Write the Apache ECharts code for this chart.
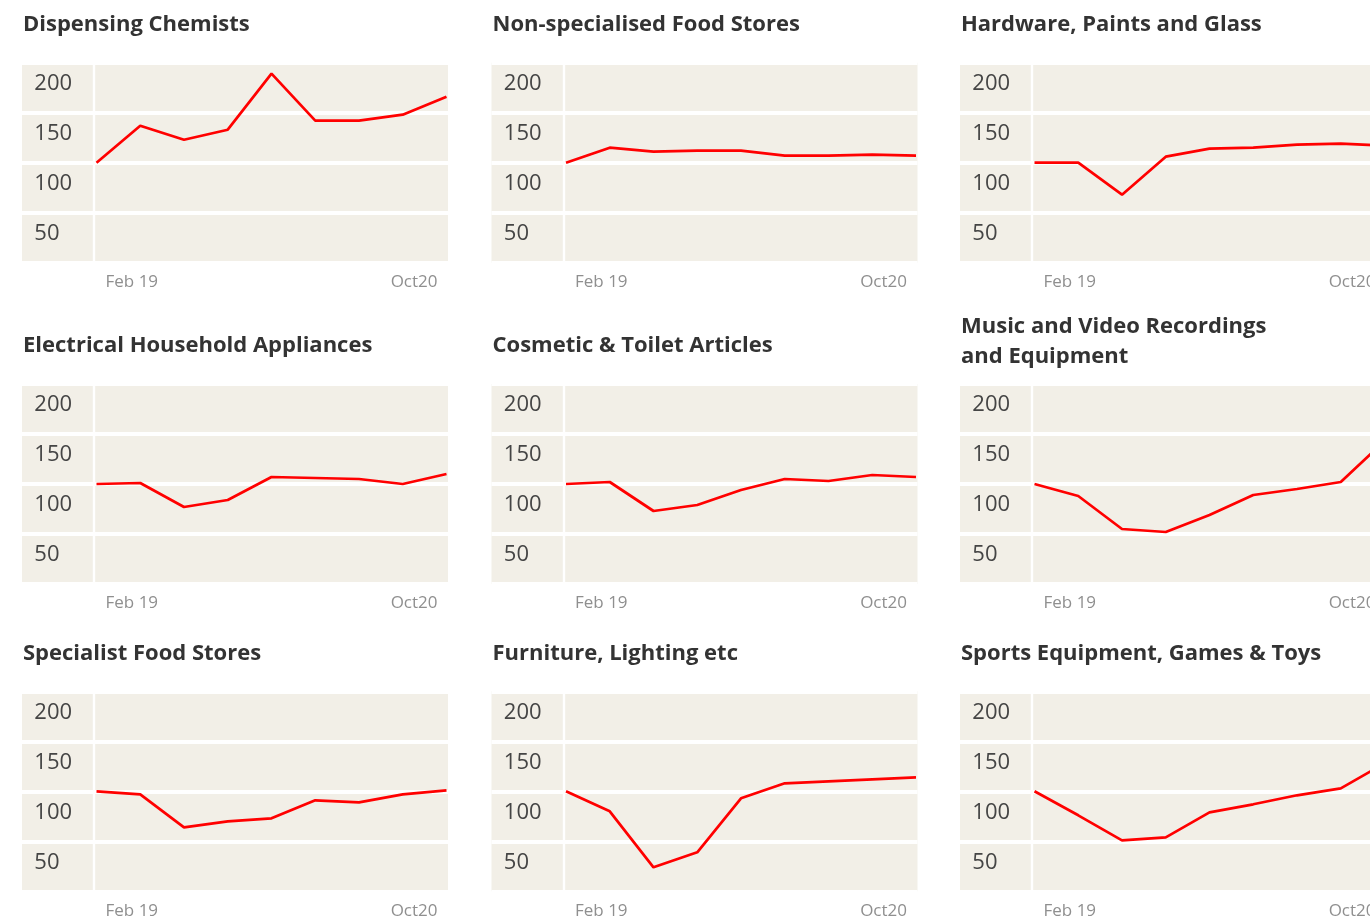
<!DOCTYPE html>
<html>
<head>
<meta charset="utf-8">
<script src="https://cdn.jsdelivr.net/npm/echarts@6/dist/echarts.min.js"></script>
<style>
html, body { margin: 0; padding: 0; overflow: hidden; background: #ffffff; }
#chart { width: 1400px; height: 920px; }
</style>
</head>
<body>
<div id="chart"></div>
<script>
// ---- data ----
const categories = ['Feb 19', 'Mar 20', 'Apr 20', 'May 20', 'Jun 20', 'Jul 20', 'Aug 20', 'Sep 20', 'Oct20'];
const yTicks = [50, 100, 150, 200];

const panelTitles = [
  'Dispensing Chemists', 'Non-specialised Food Stores', 'Hardware, Paints and Glass',
  'Electrical Household Appliances', 'Cosmetic & Toilet Articles', 'Music and Video Recordings\nand Equipment',
  'Specialist Food Stores', 'Furniture, Lighting etc', 'Sports Equipment, Games & Toys'
];

const dispensingChemists   = [100, 137, 123, 133, 189, 142, 142, 148, 166];
const nonSpecialisedFood   = [100, 115, 111, 112, 112, 107, 107, 108, 107];
const hardwarePaintsGlass  = [100, 100, 68, 106, 114, 115, 118, 119, 117];
const electricalHousehold  = [100, 101, 77, 84, 107, 106, 105, 100, 110];
const cosmeticToilet       = [100, 102, 73, 79, 94, 105, 103, 109, 107];
const musicVideo           = [100, 88, 55, 52, 69, 89, 95, 102, 143];
const specialistFood       = [100, 97, 64, 70, 73, 91, 89, 97, 101];
const furnitureLighting    = [100, 80, 24, 39, 93, 108, 110, 112, 114];
const sportsGamesToys      = [100, 76, 51, 54, 79, 87, 96, 103, 128];

const panelSeries = [
  dispensingChemists, nonSpecialisedFood, hardwarePaintsGlass,
  electricalHousehold, cosmeticToilet, musicVideo,
  specialistFood, furnitureLighting, sportsGamesToys
];

// ---- layout ----
const colLeft = [22, 491.5, 960];
const rowTop = [62.7, 384, 691.3];
const titleTop = [10, 331, 639];
const plotH = 200;
const bgW = 426;
const fgOffset = 74.5;
const fgW = 350;

const BG = '#f2efe7';
const FONT = "'Open Sans', 'Liberation Sans', sans-serif";

const grids = [], xAxes = [], yAxes = [], series = [], titles = [];

panelSeries.forEach((data, i) => {
  const r = Math.floor(i / 3), c = i % 3;
  const L = colLeft[c], T = rowTop[r];
  const bgIdx = grids.length;
  grids.push({ left: L, top: T, width: bgW, height: plotH, show: true, backgroundColor: BG, borderWidth: 0 });
  const fgIdx = grids.length;
  grids.push({ left: L + fgOffset, top: T, width: fgW, height: plotH, show: false });

  xAxes.push({ gridIndex: bgIdx, type: 'category', data: categories, show: false });
  yAxes.push({
    gridIndex: bgIdx, type: 'value', min: 0, max: 200, interval: 50,
    axisLine: { show: false }, axisTick: { show: false }, axisLabel: { show: false },
    splitLine: { show: true, lineStyle: { color: '#ffffff', width: 4 } }
  });

  xAxes.push({
    gridIndex: fgIdx, type: 'category', data: categories, boundaryGap: false,
    axisLine: { show: false }, axisTick: { show: false }, splitLine: { show: false },
    axisLabel: {
      interval: (idx) => idx === 0 || idx === categories.length - 1,
      alignMinLabel: 'left', alignMaxLabel: 'right',
      margin: 11,
      color: '#8f8f8f', fontSize: 17, fontFamily: FONT,
      formatter: (v, idx) => idx === 0 ? '{a|' + v + '}' : '{b|' + v + '}',
      rich: {
        a: { padding: [0, 0, 0, 9], color: '#8f8f8f', fontSize: 17, fontFamily: FONT },
        b: { padding: [0, 9, 0, 0], color: '#8f8f8f', fontSize: 17, fontFamily: FONT }
      }
    }
  });
  yAxes.push({
    gridIndex: fgIdx, type: 'value', min: 0, max: 200, interval: 50, offset: 2.7,
    axisLine: { show: true, lineStyle: { color: '#ffffff', width: 2.4 } },
    axisTick: { show: false }, splitLine: { show: false },
    axisLabel: {
      showMinLabel: false, align: 'left', verticalAlign: 'top', lineHeight: 42,
      margin: 59.5, color: '#454545', fontSize: 22, fontFamily: FONT,
      formatter: (v) => yTicks.includes(v) ? String(v) : ''
    }
  });

  series.push({
    type: 'line', xAxisIndex: xAxes.length - 1, yAxisIndex: yAxes.length - 1,
    data: data, symbol: 'none', animation: false,
    lineStyle: { color: '#ff0000', width: 2.7 }
  });

  const twoLine = panelTitles[i].includes('\n');
  titles.push({
    text: panelTitles[i], left: L + 1, top: twoLine ? titleTop[r] - 19 : titleTop[r], padding: 0,
    textStyle: { fontFamily: FONT, fontWeight: 'bold', fontSize: 22, color: '#333333', lineHeight: 30 }
  });
});

const chart = echarts.init(document.getElementById('chart'), null, { renderer: 'canvas' });
chart.setOption({
  animation: false,
  title: titles,
  grid: grids,
  xAxis: xAxes,
  yAxis: yAxes,
  series: series
});
</script>
</body>
</html>
